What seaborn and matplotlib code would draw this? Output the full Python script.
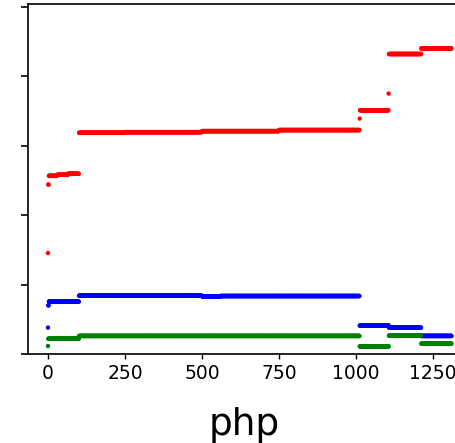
import numpy as np
import pandas as pd
import matplotlib
matplotlib.use("Agg")
import matplotlib.pyplot as plt
import seaborn as sns

# Step segments: [start, end) index ranges and level
red_starts = [0, 1, 3, 30, 65, 101, 250, 500, 750, 1012, 1013, 1106, 1107, 1212]
red_ends = [1, 3, 30, 65, 101, 250, 500, 750, 1012, 1013, 1106, 1107, 1212, 1311]
red_levels = [1.455, 2.44, 2.565, 2.58, 2.595, 3.185, 3.195, 3.21, 3.225, 3.39, 3.51, 3.75, 4.32, 4.40]

blue_starts = [0, 1, 3, 101, 500, 560, 1012, 1107, 1212]
blue_ends = [1, 3, 101, 500, 560, 1012, 1107, 1212, 1311]
blue_levels = [0.38, 0.70, 0.755, 0.84, 0.83, 0.835, 0.41, 0.38, 0.26]

green_starts = [0, 1, 101, 1012, 1107, 1212]
green_ends = [1, 101, 1012, 1107, 1212, 1311]
green_levels = [0.115, 0.22, 0.26, 0.11, 0.265, 0.15]

series_names = ["red", "blue", "green"]
series_colors = {"red": "red", "blue": "blue", "green": "green"}
x_ticks = [0, 250, 500, 750, 1000, 1250]
y_ticks = [0, 1, 2, 3, 4, 5]
x_label = "php"


def expand(name, starts, ends, levels):
    xs, ys = [], []
    for s, e, v in zip(starts, ends, levels):
        idx = np.arange(s, e)
        xs.append(idx)
        ys.append(np.full(len(idx), v))
    return pd.DataFrame({"x": np.concatenate(xs), "y": np.concatenate(ys), "series": name})


df = pd.concat([
    expand("red", red_starts, red_ends, red_levels),
    expand("blue", blue_starts, blue_ends, blue_levels),
    expand("green", green_starts, green_ends, green_levels),
], ignore_index=True)

fig = plt.figure(figsize=(4.56, 4.43), dpi=100)
ax = fig.add_axes([27.8 / 456, 89 / 443, (471.7 - 27.8) / 456, 350 / 443])

sns.scatterplot(data=df, x="x", y="y", hue="series", hue_order=series_names,
                palette=series_colors, s=10, linewidth=0, legend=False, ax=ax)

ax.set_xlim(-65.5, 1375.5)
ax.set_ylim(0, 5.04)
ax.set_xticks(x_ticks)
ax.set_xticklabels([str(t) for t in x_ticks], fontsize=13.5)
ax.set_yticks(y_ticks)
ax.set_yticklabels([])
ax.tick_params(axis="y", length=5, width=1.2)
ax.tick_params(axis="x", length=3.5, width=1.0)
ax.set_xlabel(x_label, fontsize=27)
ax.xaxis.set_label_coords(0.487, -0.152)
ax.xaxis.label.set_verticalalignment("top")
ax.set_ylabel("")
for sp in ax.spines.values():
    sp.set_linewidth(1.2)

fig.savefig("out.png", dpi=100)
